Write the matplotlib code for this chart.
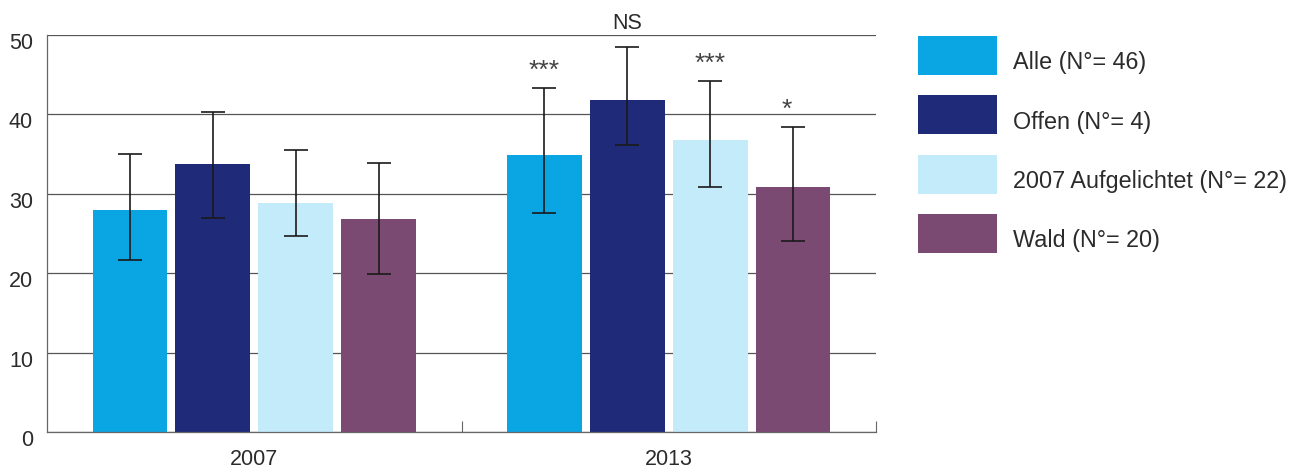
"""Bar chart: 2007 vs 2013 by site type, with error bars and significance marks."""

import matplotlib

matplotlib.use("Agg")
import matplotlib.pyplot as plt
import matplotlib.transforms as mtransforms
import numpy as np
from matplotlib.patches import Rectangle

years = ["2007", "2013"]
series = ["Alle (N°= 46)", "Offen (N°= 4)", "2007 Aufgelichtet (N°= 22)", "Wald (N°= 20)"]
colors = ["#0aa6e4", "#1f2a78", "#c4ebf9", "#7b4a72"]

# mean values per series, [2007, 2013]
alle = [27.9, 34.9]
offen = [33.8, 41.8]
aufgelichtet = [28.8, 36.8]
wald = [26.8, 30.8]

# error bar ends (lower, upper) per series, [2007, 2013]
alle_low = [21.7, 27.6]
alle_high = [35.0, 43.3]
offen_low = [27.0, 36.1]
offen_high = [40.3, 48.5]
aufgelichtet_low = [24.7, 30.9]
aufgelichtet_high = [35.5, 44.2]
wald_low = [19.9, 24.0]
wald_high = [33.9, 38.4]

# significance labels for 2013
signif_2013 = ["***", "NS", "***", "*"]

values = [alle, offen, aufgelichtet, wald]
lows = [alle_low, offen_low, aufgelichtet_low, wald_low]
highs = [alle_high, offen_high, aufgelichtet_high, wald_high]

plt.rcParams["font.family"] = ["Liberation Sans", "DejaVu Sans"]
text_color = "#2b2b2b"

W, H = 1298, 469
fig = plt.figure(figsize=(W / 100, H / 100), dpi=100)
ax = fig.add_axes([47 / W, 37 / H, 829 / W, 397 / H])

x = np.arange(len(years))
width = 0.18
offsets = [-0.3, -0.1, 0.1, 0.3]

for vals, lo, hi, color, off in zip(values, lows, highs, colors, offsets):
    vals = np.array(vals)
    yerr = np.vstack([vals - np.array(lo), np.array(hi) - vals])
    ax.bar(x + off, vals, width, color=color, zorder=2)
    ax.errorbar(x + off, vals, yerr=yerr, fmt="none", ecolor="#1a1a1a",
                elinewidth=1.2, capsize=8.5, capthick=1.2, zorder=3)

# significance marks above the 2013 error bars
for label, hi, off in zip(signif_2013, highs, offsets):
    if label == "NS":
        ax.text(1 + off, hi[1] + 1.6, label, ha="center", va="bottom",
                fontsize=15.5, color=text_color)
    else:
        ax.text(1 + off - (0.015 if label == "*" else 0), hi[1] + 2.2, label,
                ha="center", va="center", fontsize=19, color="#444444")

ax.set_xlim(-0.5, 1.5)
ax.set_ylim(0, 50)
ax.set_yticks([0, 10, 20, 30, 40, 50])
ax.set_xticks(x)
ax.set_xticklabels(years)
ax.set_xticks([0.5, 1.5], minor=True)
ax.tick_params(axis="x", which="major", length=0, pad=12, labelsize=15.5, labelcolor=text_color)
ax.tick_params(axis="x", which="minor", direction="in", length=8, width=0.8, color="#666666")
ax.tick_params(axis="y", length=0, pad=10, labelsize=15.5, labelcolor=text_color)
ax.grid(axis="y", color="#555555", linewidth=0.9, zorder=0)
ax.set_axisbelow(True)

# the y labels sit a little below their gridlines in the original
shift = mtransforms.ScaledTranslation(0, -6 / 100, fig.dpi_scale_trans)
for lab in ax.get_yticklabels():
    lab.set_transform(lab.get_transform() + shift)

for side in ["top", "right"]:
    ax.spines[side].set_visible(False)
ax.spines["left"].set_color("#666666")
ax.spines["bottom"].set_color("#666666")
ax.spines["left"].set_linewidth(0.9)
ax.spines["bottom"].set_linewidth(0.9)

# legend drawn by hand: swatch with label slightly below its centre
for i, (label, color) in enumerate(zip(series, colors)):
    top = 36 + i * 59.5
    fig.patches.append(Rectangle((918 / W, 1 - (top + 39) / H), 79 / W, 39 / H,
                                 facecolor=color, edgecolor="none",
                                 transform=fig.transFigure, figure=fig))
    fig.text(1013 / W, 1 - (top + 26.5) / H, label, ha="left", va="center",
             fontsize=16.8, color=text_color)

fig.savefig("out.png", dpi=100)
